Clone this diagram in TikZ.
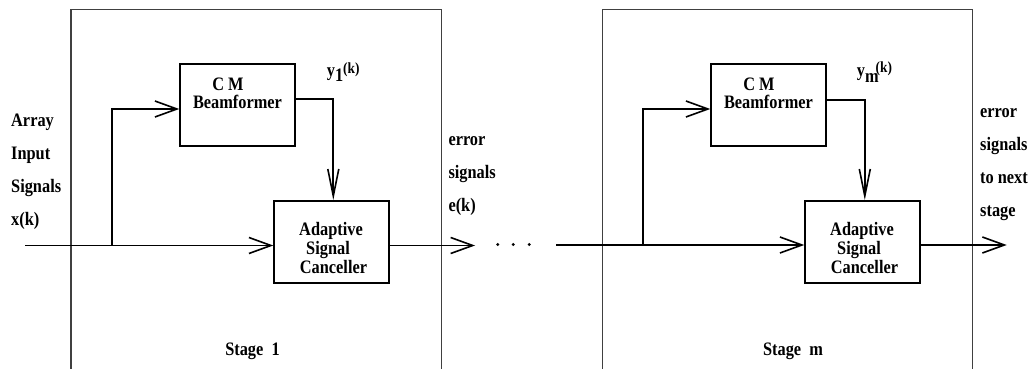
\documentclass[tikz,border=0pt]{standalone}
\usepackage{fontspec}
\setmainfont{Liberation Serif}[FakeStretch=0.86]
\usetikzlibrary{arrows.meta}

\begin{document}
\begin{tikzpicture}[x=1pt,y=-1pt,
  wire/.style={line width=1.7pt},
  frame/.style={line width=1.2pt, draw=black!75},
  blockbox/.style={draw, line width=1.8pt, minimum width=114.4pt, minimum height=82pt,
    inner sep=0pt, anchor=north west},
  lbl/.style={font=\fontsize{19}{19}\selectfont\bfseries, inner sep=0pt, anchor=base west},
  ctr/.style={font=\fontsize{19}{19}\selectfont\bfseries, inner sep=0pt, anchor=base},
  hhead/.style={-{Straight Barb[length=22pt,width=16pt,line width=1.6pt]}},
  vhead/.style={-{Straight Barb[length=27pt,width=11pt,line width=1.6pt]}},
]
\useasboundingbox (0,0) rectangle (1029,369);

% stage frames (open at the bottom)
\draw[frame] (71,369) -- (71,9.5) -- (441.5,9.5) -- (441.5,369);
\draw[frame] (602.5,369) -- (602.5,9.5) -- (972.5,9.5) -- (972.5,369);

% ---------- stage 1 ----------
\node[blockbox] (cm1) at (179.3,63.3) {};
\node[blockbox] (asc1) at (273.3,200) {};
\node[ctr] (cm1a) at (228,90.7) {C M};
\node[ctr] (cm1b) at (237.5,108.3) {Beamformer};
\node[ctr] (asc1a) at (331,235.7) {Adaptive};
\node[ctr] (asc1b) at (328,254.5) {Signal};
\node[ctr] (asc1c) at (333.5,273.3) {Canceller};

\coordinate (in) at (25,245.5);
\coordinate (b1) at (112.3,245.5);
\coordinate (u1) at (112.3,109);
\coordinate (d1) at (333.3,99.3);
\coordinate (e1) at (475,245.5);

\draw[wire] (in) -- (b1);
\draw[wire,hhead] (b1) -- (asc1.west |- b1);
\draw[wire,hhead] (b1) -- (u1) -- (cm1.west |- u1);
\draw[wire,vhead] (cm1.east |- d1) -- (d1) -- (asc1.north -| d1);
\draw[wire,hhead] (asc1.east |- b1) -- (e1);

\node[lbl] (y1) at (326.7,76.7) {y\raisebox{-5pt}{1}\raisebox{3.5pt}{\fontsize{15.5}{15.5}\selectfont(k)}};

% ---------- continuation ----------
\fill (497.7,244.5) circle (1.6pt);
\fill (513.3,244.5) circle (1.6pt);
\fill (529.3,244.5) circle (1.6pt);

% ---------- stage m ----------
\node[blockbox] (cmm) at (710.3,63.3) {};
\node[blockbox] (ascm) at (804.3,200) {};
\node[ctr] (cmma) at (759,90.7) {C M};
\node[ctr] (cmmb) at (768.5,108.3) {Beamformer};
\node[ctr] (ascma) at (862,235.7) {Adaptive};
\node[ctr] (ascmb) at (859,254.5) {Signal};
\node[ctr] (ascmc) at (864.5,273.3) {Canceller};

\coordinate (inm) at (556,245);
\coordinate (bm) at (643.3,245);
\coordinate (um) at (643.3,109);
\coordinate (dm) at (864.8,100);
\coordinate (em) at (1006.7,245);

\draw[wire] (inm) -- (bm);
\draw[wire,hhead] (bm) -- (ascm.west |- bm);
\draw[wire,hhead] (bm) -- (um) -- (cmm.west |- um);
\draw[wire,vhead] (cmm.east |- dm) -- (dm) -- (ascm.north -| dm);
\draw[wire,hhead] (ascm.east |- bm) -- (em);

\node[lbl] (ym) at (856.7,76.7) {y\raisebox{-6pt}{m}\kern-3pt\raisebox{4pt}{\fontsize{15.5}{15.5}\selectfont(k)}};

% ---------- side labels ----------
\node[lbl] (x1) at (11,126.7) {Array};
\node[lbl] (x2) at (11,159.5) {Input};
\node[lbl] (x3) at (11,192.3) {Signals};
\node[lbl] (x4) at (11,225) {x(k)};

\node[lbl] (r1) at (448.3,145) {error};
\node[lbl] (r2) at (448.3,178) {signals};
\node[lbl] (r3) at (448.3,211) {e(k)};

\node[lbl] (s1) at (980,117.3) {error};
\node[lbl] (s2) at (980,150.3) {signals};
\node[lbl] (s3) at (980,183.3) {to next};
\node[lbl] (s4) at (980,216.3) {stage};

\node[ctr] (st1) at (252.5,355) {Stage\ \ 1};
\node[ctr] (stm) at (793,355) {Stage\ \ m};
\end{tikzpicture}
\end{document}
